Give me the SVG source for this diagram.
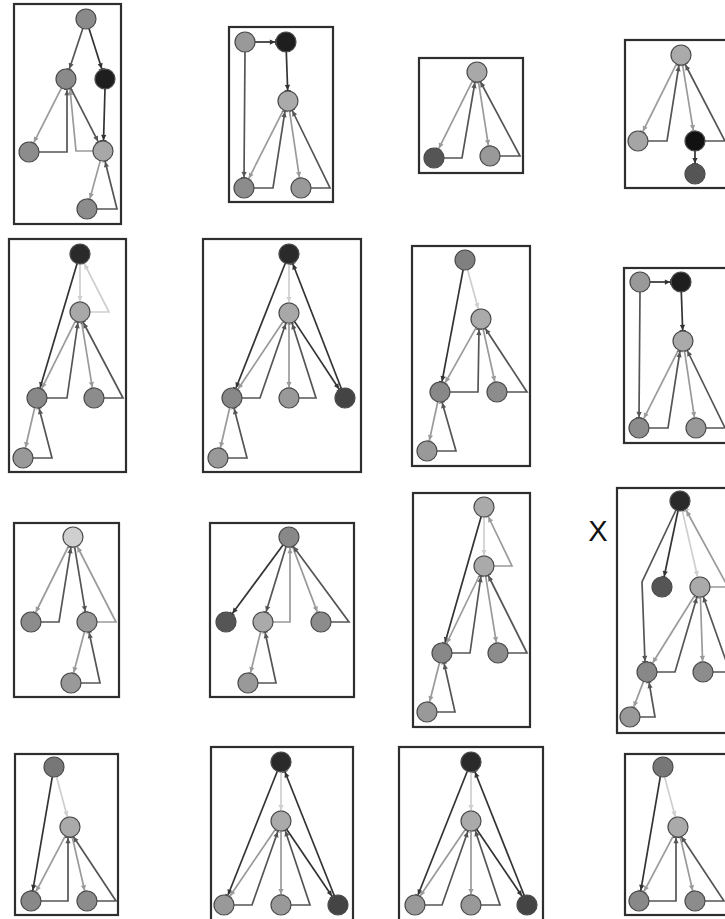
<svg xmlns="http://www.w3.org/2000/svg" width="725" height="919" viewBox="0 0 725 919">
<defs>
<style>
.box{fill:none;stroke:#2e2e2e;stroke-width:2.2}
.n circle{stroke:#4a4a4a;stroke-width:1.2}
.e line,.e polyline{fill:none;stroke-width:1.7}
.d{stroke:#333;marker-end:url(#md)}
.m{stroke:#555;marker-end:url(#mm)}
.l{stroke:#9a9a9a;marker-end:url(#ml)}
.v{stroke:#cfcfcf;marker-end:url(#mv)}
.x{font-family:"Liberation Sans",Arial,sans-serif;font-size:29px;fill:#111}
</style>
<marker id="md" viewBox="0 0 8 8" refX="8" refY="4" markerWidth="7" markerHeight="7" markerUnits="userSpaceOnUse" orient="auto"><path d="M1,1 L7,4 L1,7 z M7,0.5 h1 v7 h-1 z" fill="#333"/></marker>
<marker id="mm" viewBox="0 0 8 8" refX="8" refY="4" markerWidth="7" markerHeight="7" markerUnits="userSpaceOnUse" orient="auto"><path d="M1,1 L7,4 L1,7 z M7,0.5 h1 v7 h-1 z" fill="#555"/></marker>
<marker id="ml" viewBox="0 0 8 8" refX="8" refY="4" markerWidth="7" markerHeight="7" markerUnits="userSpaceOnUse" orient="auto"><path d="M1,1 L7,4 L1,7 z M7,0.5 h1 v7 h-1 z" fill="#9a9a9a"/></marker>
<marker id="mv" viewBox="0 0 8 8" refX="8" refY="4" markerWidth="7" markerHeight="7" markerUnits="userSpaceOnUse" orient="auto"><path d="M1,1 L7,4 L1,7 z M7,0.5 h1 v7 h-1 z" fill="#cfcfcf"/></marker>
</defs>
<rect width="725" height="919" fill="#fff"/>

<g id="panel1">
<rect class="box" x="14" y="4" width="107" height="220"/>
<g class="e">
<line class="m" x1="82.8" y1="28.5" x2="69.2" y2="69.5"/>
<line class="d" x1="89" y1="28.5" x2="102" y2="69.5"/>
<line class="l" x1="61.5" y1="87.9" x2="33.5" y2="143.1"/>
<polyline class="m" points="39,152 67,152 67,89"/>
<polyline class="l" points="93,151 76,151 70,89"/>
<line class="m" x1="70.6" y1="87.9" x2="98.4" y2="142.1"/>
<line class="d" x1="105" y1="89" x2="103.5" y2="141"/>
<line class="l" x1="100.3" y1="160.6" x2="89.7" y2="199.4"/>
<polyline class="m" points="97,209 117,209 105,161"/>
</g>
<g id="p1a" class="n"><circle cx="86" cy="19" r="10" fill="#8a8a8a"/></g>
<g id="p1b" class="n"><circle cx="66" cy="79" r="10" fill="#8a8a8a"/></g>
<g id="p1c" class="n"><circle cx="105" cy="79" r="10" fill="#1e1e1e"/></g>
<g id="p1d" class="n"><circle cx="29" cy="152" r="10" fill="#8c8c8c"/></g>
<g id="p1e" class="n"><circle cx="103" cy="151" r="10" fill="#a8a8a8"/></g>
<g id="p1f" class="n"><circle cx="87" cy="209" r="10" fill="#8c8c8c"/></g>
</g>

<g id="panel2">
<rect class="box" x="229" y="27" width="104" height="175"/>
<g class="e">
<line class="d" x1="255" y1="42" x2="276" y2="42"/>
<line class="d" x1="286.3" y1="52" x2="287.7" y2="91"/>
<line class="m" x1="245" y1="52" x2="244" y2="178"/>
<line class="l" x1="283.5" y1="109.9" x2="248.5" y2="179.1"/>
<polyline class="m" points="254,188 273,188 285,111"/>
<line class="l" x1="289.5" y1="110.9" x2="299.5" y2="178.1"/>
<polyline class="m" points="311,188 330,188 292,110"/>
</g>
<g id="p2a" class="n"><circle cx="245" cy="42" r="10" fill="#999"/></g>
<g id="p2b" class="n"><circle cx="286" cy="42" r="10" fill="#1e1e1e"/></g>
<g id="p2c" class="n"><circle cx="288" cy="101" r="10" fill="#aaa"/></g>
<g id="p2d" class="n"><circle cx="244" cy="188" r="10" fill="#8c8c8c"/></g>
<g id="p2e" class="n"><circle cx="301" cy="188" r="10" fill="#999"/></g>
</g>

<g id="panel3">
<rect class="box" x="419" y="58" width="104" height="115"/>
<g class="e">
<line class="l" x1="472.5" y1="80.9" x2="438.5" y2="149.1"/>
<polyline class="m" points="444,158 462,158 475,82"/>
<line class="l" x1="478.5" y1="81.9" x2="488.5" y2="146.1"/>
<polyline class="m" points="500,156 520,156 480,81"/>
</g>
<g id="p3a" class="n"><circle cx="477" cy="72" r="10" fill="#a8a8a8"/></g>
<g id="p3b" class="n"><circle cx="434" cy="158" r="10" fill="#555"/></g>
<g id="p3c" class="n"><circle cx="490" cy="156" r="10" fill="#999"/></g>
</g>

<g id="panel4">
<rect class="box" x="625" y="40" width="103" height="148"/>
<g class="e">
<line class="l" x1="676.5" y1="63.9" x2="642.5" y2="132.1"/>
<polyline class="m" points="648,141 667,141 679,65"/>
<line class="l" x1="682.6" y1="64.9" x2="693.4" y2="131.1"/>
<polyline class="m" points="705,141 725,141 685,64"/>
<line class="d" x1="695" y1="151" x2="695" y2="164"/>
</g>
<g id="p4a" class="n"><circle cx="681" cy="55" r="10" fill="#aaa"/></g>
<g id="p4b" class="n"><circle cx="638" cy="141" r="10" fill="#a5a5a5"/></g>
<g id="p4c" class="n"><circle cx="695" cy="141" r="10" fill="#111"/></g>
<g id="p4d" class="n"><circle cx="695" cy="174" r="10" fill="#555"/></g>
</g>

<g id="panel5">
<rect class="box" x="9" y="239" width="117" height="233"/>
<g class="e">
<line class="v" x1="80" y1="264" x2="80" y2="302"/>
<polyline class="v" points="90,312 109,312 84,263"/>
<line class="d" x1="77.1" y1="263.6" x2="39.9" y2="388.4"/>
<line class="l" x1="75.5" y1="320.9" x2="41.5" y2="389.1"/>
<polyline class="m" points="47,398 67,398 78,322"/>
<line class="l" x1="81.6" y1="321.9" x2="92.4" y2="388.1"/>
<polyline class="m" points="104,398 123,398 83,322"/>
<line class="l" x1="34.7" y1="407.7" x2="25.3" y2="448.3"/>
<polyline class="m" points="33,458 52,458 39,408"/>
</g>
<g id="p5a" class="n"><circle cx="80" cy="254" r="10" fill="#2a2a2a"/></g>
<g id="p5b" class="n"><circle cx="80" cy="312" r="10" fill="#a8a8a8"/></g>
<g id="p5c" class="n"><circle cx="37" cy="398" r="10" fill="#888"/></g>
<g id="p5d" class="n"><circle cx="94" cy="398" r="10" fill="#8c8c8c"/></g>
<g id="p5e" class="n"><circle cx="23" cy="458" r="10" fill="#999"/></g>
</g>

<g id="panel6">
<rect class="box" x="203" y="239" width="158" height="233"/>
<g class="e">
<line class="v" x1="289" y1="264" x2="289" y2="303"/>
<line class="d" x1="285.3" y1="263.3" x2="235.7" y2="388.7"/>
<line class="l" x1="283.4" y1="321.3" x2="237.6" y2="389.7"/>
<polyline class="m" points="242,398 260,398 286,323"/>
<line class="l" x1="289" y1="323" x2="289" y2="388"/>
<polyline class="m" points="299,398 316,398 292,323"/>
<line class="d" x1="294.5" y1="321.4" x2="339.5" y2="389.7"/>
<line class="d" x1="341.4" y1="388.7" x2="292.6" y2="263.3"/>
<line class="l" x1="229.7" y1="407.7" x2="220.3" y2="448.3"/>
<polyline class="m" points="228,458 247,458 234,408"/>
</g>
<g id="p6a" class="n"><circle cx="289" cy="254" r="10" fill="#2a2a2a"/></g>
<g id="p6b" class="n"><circle cx="289" cy="313" r="10" fill="#a8a8a8"/></g>
<g id="p6c" class="n"><circle cx="232" cy="398" r="10" fill="#888"/></g>
<g id="p6d" class="n"><circle cx="289" cy="398" r="10" fill="#999"/></g>
<g id="p6e" class="n"><circle cx="345" cy="398" r="10" fill="#444"/></g>
<g id="p6f" class="n"><circle cx="218" cy="458" r="10" fill="#999"/></g>
</g>

<g id="panel7">
<rect class="box" x="412" y="246" width="118" height="220"/>
<g class="e">
<line class="v" x1="467.6" y1="269.7" x2="478.4" y2="309.3"/>
<line class="d" x1="463.1" y1="269.8" x2="441.9" y2="382.2"/>
<line class="l" x1="476.1" y1="327.7" x2="444.9" y2="383.3"/>
<polyline class="m" points="450,392 478,392 479,329"/>
<line class="l" x1="483.1" y1="328.8" x2="494.9" y2="382.2"/>
<polyline class="m" points="507,392 527,392 485,328"/>
<line class="l" x1="437.8" y1="401.8" x2="429.2" y2="441.2"/>
<polyline class="m" points="437,451 456,451 442,402"/>
</g>
<g id="p7a" class="n"><circle cx="465" cy="260" r="10" fill="#808080"/></g>
<g id="p7b" class="n"><circle cx="481" cy="319" r="10" fill="#aaa"/></g>
<g id="p7c" class="n"><circle cx="440" cy="392" r="10" fill="#888"/></g>
<g id="p7d" class="n"><circle cx="497" cy="392" r="10" fill="#8c8c8c"/></g>
<g id="p7e" class="n"><circle cx="427" cy="451" r="10" fill="#999"/></g>
</g>

<g id="panel8" transform="translate(395,240)">
<rect class="box" x="229" y="28" width="104" height="175"/>
<g class="e">
<line class="d" x1="255" y1="42" x2="276" y2="42"/>
<line class="d" x1="286.3" y1="52" x2="287.7" y2="91"/>
<line class="m" x1="245" y1="52" x2="244" y2="178"/>
<line class="l" x1="283.5" y1="109.9" x2="248.5" y2="179.1"/>
<polyline class="m" points="254,188 273,188 285,111"/>
<line class="l" x1="289.5" y1="110.9" x2="299.5" y2="178.1"/>
<polyline class="m" points="311,188 330,188 292,110"/>
</g>
<g id="p8a" class="n"><circle cx="245" cy="42" r="10" fill="#999"/></g>
<g id="p8b" class="n"><circle cx="286" cy="42" r="10" fill="#1e1e1e"/></g>
<g id="p8c" class="n"><circle cx="288" cy="101" r="10" fill="#aaa"/></g>
<g id="p8d" class="n"><circle cx="244" cy="188" r="10" fill="#8c8c8c"/></g>
<g id="p8e" class="n"><circle cx="301" cy="188" r="10" fill="#999"/></g>
</g>

<g id="panel9">
<rect class="box" x="14" y="523" width="105" height="174"/>
<g class="e">
<line class="l" x1="68.6" y1="546" x2="35.4" y2="613"/>
<polyline class="m" points="41,622 59,622 71,547"/>
<line class="m" x1="74.6" y1="546.9" x2="85.4" y2="612.1"/>
<polyline class="l" points="97,622 116,622 77,546"/>
<line class="l" x1="84.5" y1="631.7" x2="73.5" y2="673.3"/>
<polyline class="m" points="81,683 100,683 89,632"/>
</g>
<g id="p9a" class="n"><circle cx="73" cy="537" r="10" fill="#cfcfcf"/></g>
<g id="p9b" class="n"><circle cx="31" cy="622" r="10" fill="#8c8c8c"/></g>
<g id="p9c" class="n"><circle cx="87" cy="622" r="10" fill="#999"/></g>
<g id="p9d" class="n"><circle cx="71" cy="683" r="10" fill="#999"/></g>
</g>

<g id="panel10">
<rect class="box" x="210" y="523" width="144" height="174"/>
<g class="e">
<line class="d" x1="283" y1="545" x2="232" y2="614"/>
<line class="m" x1="286.1" y1="546.6" x2="265.9" y2="612.4"/>
<polyline class="l" points="273,622 290,622 290,547"/>
<line class="l" x1="292.5" y1="546.4" x2="317.5" y2="612.6"/>
<polyline class="m" points="331,622 349,622 293,546"/>
<line class="l" x1="260.6" y1="631.7" x2="250.4" y2="673.3"/>
<polyline class="m" points="258,683 276,683 265,632"/>
</g>
<g id="p10a" class="n"><circle cx="289" cy="537" r="10" fill="#888"/></g>
<g id="p10b" class="n"><circle cx="226" cy="622" r="10" fill="#555"/></g>
<g id="p10c" class="n"><circle cx="263" cy="622" r="10" fill="#aaa"/></g>
<g id="p10d" class="n"><circle cx="321" cy="622" r="10" fill="#8c8c8c"/></g>
<g id="p10e" class="n"><circle cx="248" cy="683" r="10" fill="#999"/></g>
</g>

<g id="panel11">
<rect class="box" x="413" y="493" width="117" height="234"/>
<g class="e">
<line class="v" x1="484" y1="517" x2="484" y2="556"/>
<polyline class="l" points="494,566 512,566 488,516"/>
<line class="d" x1="481.2" y1="516.6" x2="444.8" y2="643.4"/>
<line class="l" x1="479.7" y1="575" x2="446.3" y2="644"/>
<polyline class="m" points="452,653 470,653 481,576"/>
<line class="l" x1="485.6" y1="575.9" x2="496.4" y2="643.1"/>
<polyline class="m" points="508,653 527,653 488,575"/>
<line class="l" x1="439.5" y1="662.7" x2="429.5" y2="702.3"/>
<polyline class="m" points="437,712 455,712 444,663"/>
</g>
<g id="p11a" class="n"><circle cx="484" cy="507" r="10" fill="#aaa"/></g>
<g id="p11b" class="n"><circle cx="484" cy="566" r="10" fill="#aaa"/></g>
<g id="p11c" class="n"><circle cx="442" cy="653" r="10" fill="#888"/></g>
<g id="p11d" class="n"><circle cx="498" cy="653" r="10" fill="#8c8c8c"/></g>
<g id="p11e" class="n"><circle cx="427" cy="712" r="10" fill="#999"/></g>
</g>

<g id="panel12">
<text class="x" x="598" y="541" text-anchor="middle">X</text>
<rect class="box" x="617" y="488" width="112" height="245"/>
<g class="e">
<line class="d" x1="678" y1="510.8" x2="664" y2="577.2"/>
<polyline class="m" points="676,510 642,582 645,662"/>
<line class="v" x1="682.3" y1="510.7" x2="697.7" y2="577.3"/>
<polyline class="l" points="710,587 728,587 686,510"/>
<line class="l" x1="694.7" y1="595.5" x2="652.3" y2="663.5"/>
<polyline class="m" points="657,672 675,672 697,597"/>
<line class="l" x1="700.4" y1="597" x2="702.6" y2="662"/>
<polyline class="m" points="713,672 730,672 703,596"/>
<line class="l" x1="643.5" y1="681.4" x2="633.5" y2="707.6"/>
<polyline class="m" points="640,717 655,717 649,682"/>
</g>
<g id="p12a" class="n"><circle cx="680" cy="501" r="10" fill="#2a2a2a"/></g>
<g id="p12b" class="n"><circle cx="662" cy="587" r="10" fill="#555"/></g>
<g id="p12c" class="n"><circle cx="700" cy="587" r="10" fill="#aaa"/></g>
<g id="p12d" class="n"><circle cx="647" cy="672" r="10" fill="#888"/></g>
<g id="p12e" class="n"><circle cx="703" cy="672" r="10" fill="#8c8c8c"/></g>
<g id="p12f" class="n"><circle cx="630" cy="717" r="10" fill="#999"/></g>
</g>

<g id="panel13">
<rect class="box" x="15" y="754" width="103" height="161"/>
<g class="e">
<line class="v" x1="56.6" y1="776.7" x2="67.4" y2="817.3"/>
<line class="d" x1="52.3" y1="776.9" x2="32.7" y2="891.1"/>
<line class="l" x1="65.3" y1="835.9" x2="35.7" y2="892.1"/>
<polyline class="m" points="41,901 68,901 68,837"/>
<line class="l" x1="72.2" y1="836.8" x2="84.8" y2="891.3"/>
<polyline class="m" points="97,901 116,901 73,836"/>
</g>
<g id="p13a" class="n"><circle cx="54" cy="767" r="10" fill="#777"/></g>
<g id="p13b" class="n"><circle cx="70" cy="827" r="10" fill="#aaa"/></g>
<g id="p13c" class="n"><circle cx="31" cy="901" r="10" fill="#888"/></g>
<g id="p13d" class="n"><circle cx="87" cy="901" r="10" fill="#8c8c8c"/></g>
</g>

<g id="panel14">
<rect class="box" x="211" y="747" width="142" height="180"/>
<g class="e">
<line class="v" x1="281" y1="772" x2="281" y2="811"/>
<line class="d" x1="277.3" y1="771.3" x2="227.7" y2="895.7"/>
<line class="l" x1="275.4" y1="829.3" x2="229.6" y2="896.7"/>
<polyline class="m" points="234,905 252,905 278,831"/>
<line class="l" x1="281" y1="831" x2="281" y2="895"/>
<polyline class="m" points="291,905 310,905 285,830"/>
<line class="d" x1="286.6" y1="829.3" x2="332.4" y2="896.7"/>
<line class="d" x1="334.3" y1="895.7" x2="284.7" y2="771.3"/>
</g>
<g id="p14a" class="n"><circle cx="281" cy="762" r="10" fill="#2a2a2a"/></g>
<g id="p14b" class="n"><circle cx="281" cy="821" r="10" fill="#aaa"/></g>
<g id="p14c" class="n"><circle cx="224" cy="905" r="10" fill="#999"/></g>
<g id="p14d" class="n"><circle cx="281" cy="905" r="10" fill="#999"/></g>
<g id="p14e" class="n"><circle cx="338" cy="905" r="10" fill="#444"/></g>
</g>

<g id="panel15" transform="translate(190,0)">
<rect class="box" x="209" y="747" width="144" height="180"/>
<g class="e">
<line class="v" x1="281" y1="772" x2="281" y2="811"/>
<line class="d" x1="277.3" y1="771.3" x2="227.7" y2="895.7"/>
<line class="l" x1="275.4" y1="829.3" x2="229.6" y2="896.7"/>
<polyline class="m" points="234,905 252,905 278,831"/>
<line class="l" x1="281" y1="831" x2="281" y2="895"/>
<polyline class="m" points="291,905 310,905 285,830"/>
<line class="d" x1="286.6" y1="829.3" x2="332.4" y2="896.7"/>
<line class="d" x1="334.3" y1="895.7" x2="284.7" y2="771.3"/>
</g>
<g id="p15a" class="n"><circle cx="281" cy="762" r="10" fill="#2a2a2a"/></g>
<g id="p15b" class="n"><circle cx="281" cy="821" r="10" fill="#aaa"/></g>
<g id="p15c" class="n"><circle cx="225" cy="905" r="10" fill="#999"/></g>
<g id="p15d" class="n"><circle cx="281" cy="905" r="10" fill="#999"/></g>
<g id="p15e" class="n"><circle cx="337" cy="905" r="10" fill="#444"/></g>
</g>

<g id="panel16" transform="translate(608,0)">
<rect class="box" x="17" y="754" width="112" height="161"/>
<g class="e">
<line class="v" x1="56.6" y1="776.7" x2="67.4" y2="817.3"/>
<line class="d" x1="52.3" y1="776.9" x2="32.7" y2="891.1"/>
<line class="l" x1="65.3" y1="835.9" x2="35.7" y2="892.1"/>
<polyline class="m" points="41,901 68,901 68,837"/>
<line class="l" x1="72.2" y1="836.8" x2="84.8" y2="891.3"/>
<polyline class="m" points="97,901 116,901 73,836"/>
</g>
<g id="p16a" class="n"><circle cx="55" cy="767" r="10" fill="#777"/></g>
<g id="p16b" class="n"><circle cx="70" cy="827" r="10" fill="#aaa"/></g>
<g id="p16c" class="n"><circle cx="31" cy="901" r="10" fill="#888"/></g>
<g id="p16d" class="n"><circle cx="87" cy="901" r="10" fill="#8c8c8c"/></g>
</g>
</svg>
